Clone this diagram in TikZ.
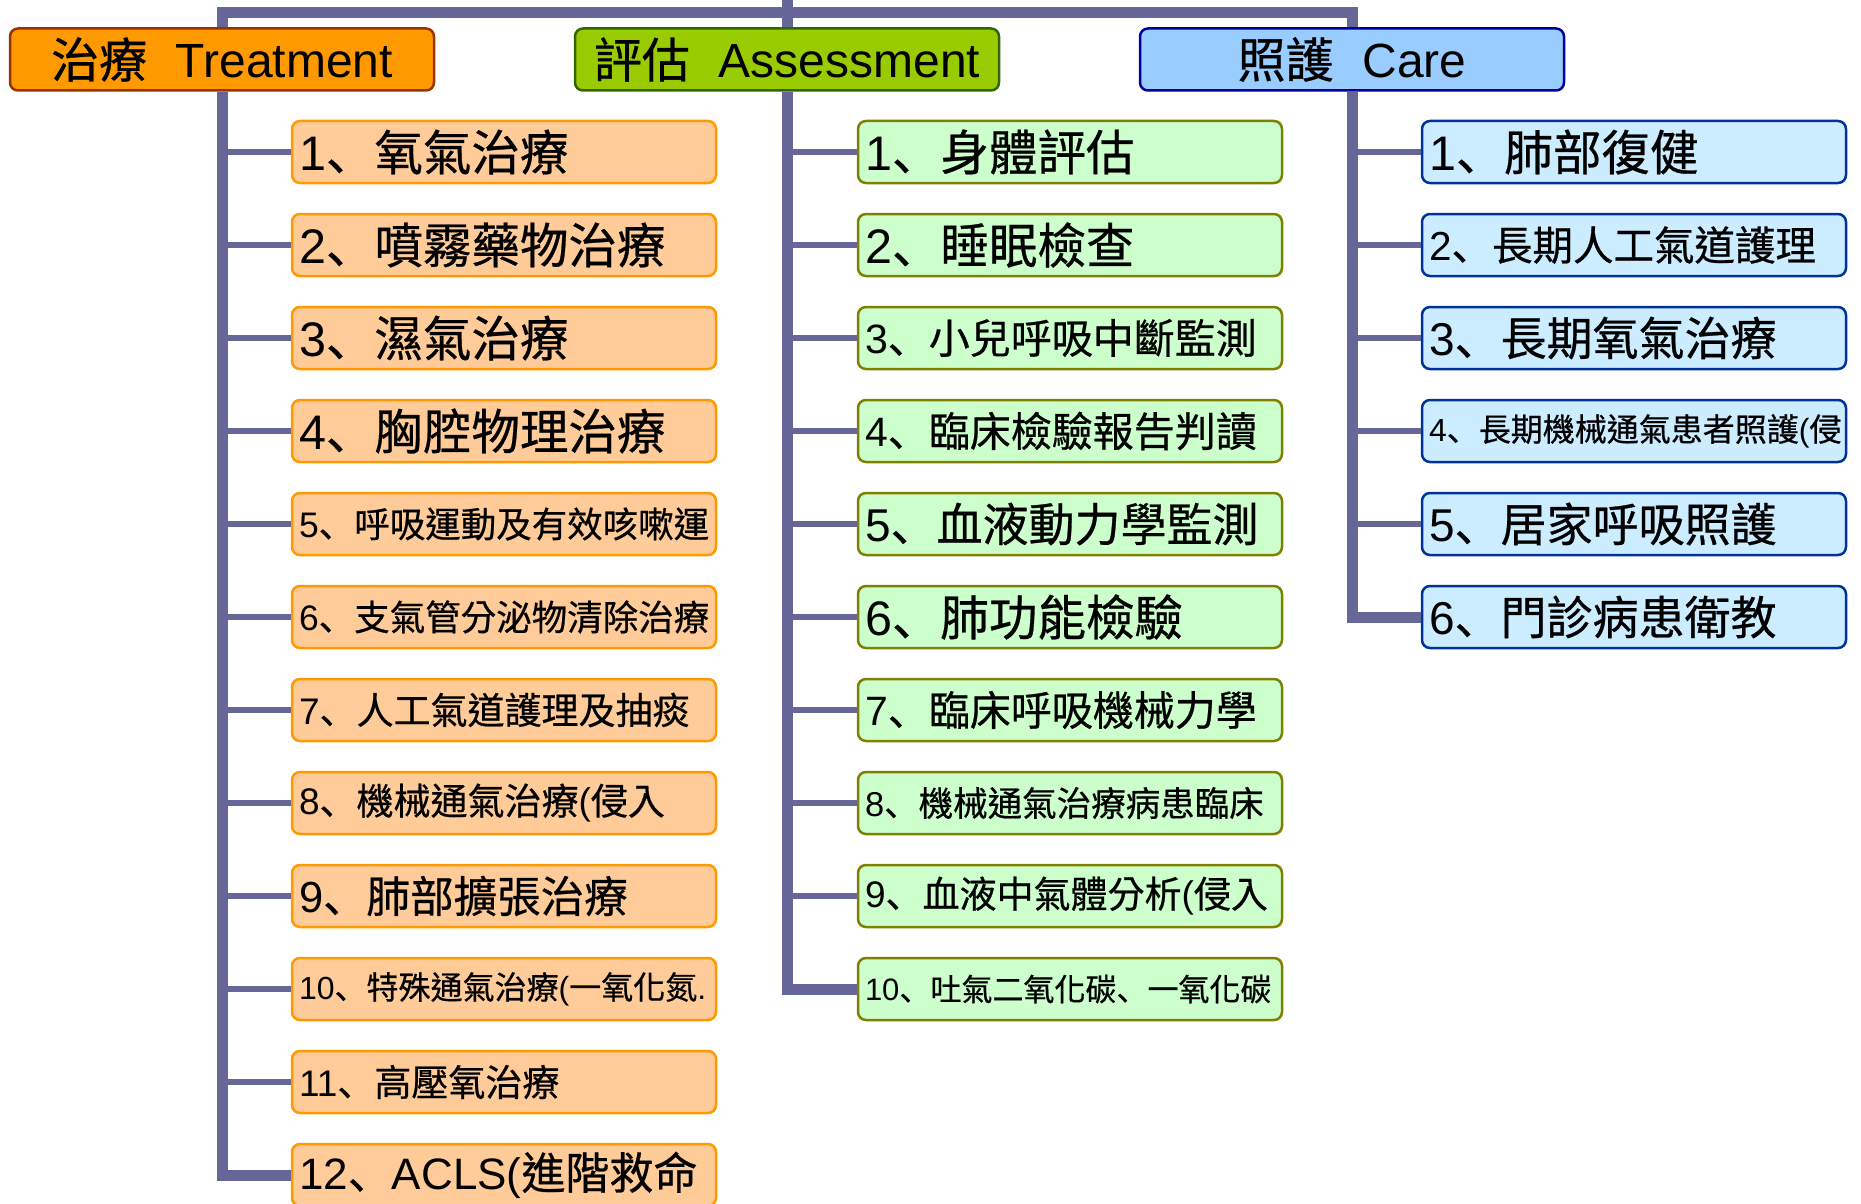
\documentclass[tikz,border=0pt]{standalone}
\usepackage{fontspec}
\setmainfont{Liberation Sans}
\newfontfamily\cjk[FakeBold=0.6]{Noto Sans CJK TC}
\newfontfamily\cjkjp[FakeBold=0.6]{Noto Sans CJK JP}
\newcommand\zh[1]{{\cjk #1}}
\newcommand\sep{{\cjkjp 、}}
\definecolor{linkc}{RGB}{102,102,153}
\definecolor{trtH}{RGB}{255,153,0}
\definecolor{trtHd}{RGB}{153,51,0}
\definecolor{trtB}{RGB}{255,204,153}
\definecolor{trtBd}{RGB}{255,153,0}
\definecolor{aseH}{RGB}{153,204,0}
\definecolor{aseHd}{RGB}{51,102,0}
\definecolor{aseB}{RGB}{204,255,204}
\definecolor{aseBd}{RGB}{128,128,0}
\definecolor{carH}{RGB}{153,204,255}
\definecolor{carHd}{RGB}{0,0,153}
\definecolor{carB}{RGB}{204,236,255}
\definecolor{carBd}{RGB}{0,51,153}

\begin{document}
\begin{tikzpicture}[x=1pt,y=-1pt,
   box/.style={rectangle,rounded corners=8pt,line width=2.5pt,minimum height=62pt,
     text width=410pt,inner xsep=7pt,inner ysep=0pt,align=left},
   head/.style={box,align=center,font=\fontsize{48}{48}\selectfont},
   fs/.style={font=\fontsize{#1}{#1}\selectfont},
   trunk/.style={linkc,line width=11pt},
   branch/.style={linkc,line width=6pt}]
   \useasboundingbox (0,0) rectangle (1861,1204);
   % headers
   \node[head,fill=trtH,draw=trtHd] (trt) at (222,59.5) {\zh{治療}\hspace{.6em}Treatment};
   \node[head,fill=aseH,draw=aseHd] (ase) at (787,59.5) {\zh{評估}\hspace{.6em}Assessment};
   \node[head,fill=carH,draw=carHd] (car) at (1352,59.5) {\zh{照護}\hspace{.6em}Care};
   % items
   \foreach \i/\s/\t in {1/48.5/{1\sep\zh{氧氣治療}}, 2/48.5/{2\sep\zh{噴霧藥物治療}},
       3/48.5/{3\sep\zh{濕氣治療}}, 4/48.5/{4\sep\zh{胸腔物理治療}},
       5/35.5/{5\sep\zh{呼吸運動及有效咳嗽運}}, 6/35.5/{6\sep\zh{支氣管分泌物清除治療}},
       7/37/{7\sep\zh{人工氣道護理及抽痰}}, 8/37/{8\sep\zh{機械通氣治療}(\zh{侵入}},
       9/43.5/{9\sep\zh{肺部擴張治療}}, 10/32/{10\sep\zh{特殊通氣治療}(\zh{一氧化氮}.},
       11/37/{11\sep\zh{高壓氧治療}}, 12/44/{12\sep ACLS(\zh{進階救命}}}
     \node[box,fs=\s,fill=trtB,draw=trtBd] (t\i) at (504,{59+93*\i}) {\t};
   \foreach \i/\s/\t in {1/48.5/{1\sep\zh{身體評估}}, 2/48.5/{2\sep\zh{睡眠檢查}},
       3/41/{3\sep\zh{小兒呼吸中斷監測}}, 4/41/{4\sep\zh{臨床檢驗報告判讀}},
       5/46/{5\sep\zh{血液動力學監測}}, 6/48.5/{6\sep\zh{肺功能檢驗}},
       7/41/{7\sep\zh{臨床呼吸機械力學}}, 8/34.5/{8\sep\zh{機械通氣治療病患臨床}},
       9/37/{9\sep\zh{血液中氣體分析}(\zh{侵入}}, 10/31/{10\sep\zh{吐氣二氧化碳}\sep\zh{一氧化碳}}}
     \node[box,fs=\s,fill=aseB,draw=aseBd] (a\i) at (1070,{59+93*\i}) {\t};
   \foreach \i/\s/\t in {1/48.5/{1\sep\zh{肺部復健}}, 2/40.5/{2\sep\zh{長期人工氣道護理}},
       3/46/{3\sep\zh{長期氧氣治療}}, 4/32/{4\sep\zh{長期機械通氣患者照護}(\zh{侵}},
       5/46/{5\sep\zh{居家呼吸照護}}, 6/46/{6\sep\zh{門診病患衛教}}}
     \node[box,fs=\s,fill=carB,draw=carBd] (c\i) at (1634,{59+93*\i}) {\t};
   % links
   \coordinate (root) at (787,0);
   \coordinate (bar) at (787,12.5);
   \draw[trunk] (root) -- (ase.north);
   \draw[trunk] (trt.north) |- (bar) -| (car.north);
   \foreach \i in {1,...,11} \draw[branch] (trt.south) |- (t\i.west);
   \draw[trunk] (trt.south) |- (t12.west);
   \foreach \i in {1,...,9} \draw[branch] (ase.south) |- (a\i.west);
   \draw[trunk] (ase.south) |- (a10.west);
   \foreach \i in {1,...,5} \draw[branch] (car.south) |- (c\i.west);
   \draw[trunk] (car.south) |- (c6.west);
\end{tikzpicture}
\end{document}
